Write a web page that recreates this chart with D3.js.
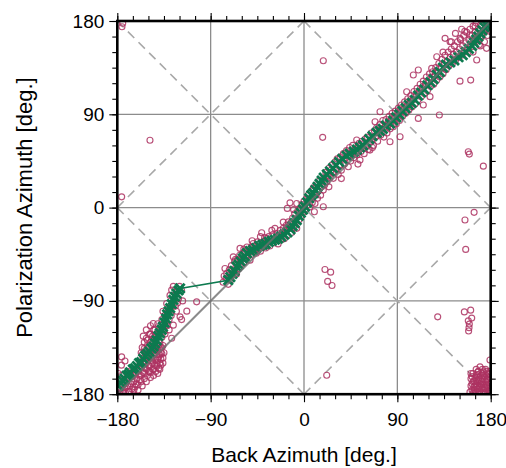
<!DOCTYPE html>
<html>
<head>
<meta charset="utf-8">
<script src="https://cdn.jsdelivr.net/npm/d3@7"></script>
<style>
  html, body { margin: 0; padding: 0; background: #fff; }
  svg { display: block; font-family: "Liberation Sans", Arial, Helvetica, sans-serif; }
</style>
</head>
<body>
<svg id="chart" width="506" height="468"></svg>
<script>
// ---------------- DATA ----------------
const axisDomain = [-180, 180];
const majorTicks = [-180, -90, 0, 90, 180];
const minorTicks = [-180,-165,-150,-135,-120,-105,-90,-75,-60,-45,-30,-15,0,15,30,45,60,75,90,105,120,135,150,165,180];
const gridValues = [-90, 0, 90];
const xTitle = "Back Azimuth [deg.]";
const yTitle = "Polarization Azimuth [deg.]";

// dashed guide lines [x1,y1,x2,y2]
const guideLines = [
  [-180, 180, 180, -180],
  [-180, 0, 0, 180],
  [0, 180, 180, 0],
  [0, -180, 180, 0],
  [-180, 0, 0, -180]
];
// theoretical 1:1 line
const identityLine = [-180, -180, 180, 180];

// circles: [back azimuth, polarization azimuth]
const circlesLeftCorner = [
  [-179,-179],[-178,-175],[-177,-180],[-176,-171],[-175,-177],[-174,-168],[-173,-174],[-172,-179],[-171,-166],[-170,-172],
  [-169,-177],[-168,-164],[-167,-170],[-166,-175],[-165,-162],[-164,-168],[-163,-173],[-162,-159],[-161,-165],[-160,-171],
  [-159,-156],[-158,-162],[-157,-168],[-156,-153],[-155,-159],[-154,-165],[-153,-150],[-152,-156],[-151,-162],[-150,-147],
  [-149,-153],[-148,-159],[-147,-144],[-146,-150],[-145,-156],[-144,-141],[-143,-147],[-142,-153],[-141,-138],[-140,-144],
  [-139,-150],[-138,-135],[-137,-141],[-139,-156],[-141,-160],[-143,-158],[-178,-166],[-176,-162],[-174,-178],[-170,-158],
  [-168,-178],[-164,-176],[-160,-176],[-156,-172],[-152,-168],[-148,-164],[-145,-162],[-180,-170],[-179,-160],[-176,-152],
  [-175.8,-144],[-172.6,-148],[-166,-168],[-162,-170],[-158,-166],[-154,-160],[-150,-158],[-146,-156],[-142,-150],[-138,-152],
  [-172,-170],[-168,-160],[-164,-162],[-160,-158],[-157,-162],[-152,-150]
];
const circlesLeftBlob = [
  [-157,-140],[-156,-135],[-155,-145],[-154,-130],[-153,-138],[-152,-126],[-151,-133],[-150,-143],[-149,-122],[-148,-130],
  [-147,-138],[-146,-148],[-145,-118],[-144,-125],[-143,-135],[-142,-142],[-141,-120],[-140,-128],[-139,-136],[-138,-146],
  [-137,-125],[-136,-133],[-135,-140],[-134,-122],[-136,-150],[-140,-155],[-144,-152],[-150,-152],[-154,-148],[-158,-150],
  [-155,-124],[-152,-118],[-148,-114],[-145.3,-111.8],[-143.7,-118],[-141,-112],[-150,-135],[-147,-128],[-145,-140],[-142,-132],
  [-139,-142],[-136,-145],[-153,-155],[-149,-158],[-151,-128],[-149,-140],[-147,-146],[-145,-131],[-143,-127],[-141,-146],
  [-139,-130],[-137,-135],[-156,-142],[-154,-136],[-148,-122],[-146,-124],[-144,-137],[-140,-133],[-138,-140],[-142,-122]
];
const circlesLeftUpper = [
  [-138,-113],[-137,-108],[-135,-118],[-134,-104],[-133,-112],[-132.4,-92.5],[-131,-100],[-130,-108],[-129.2,-84.7],[-128,-95],
  [-127.6,-79.6],[-127.6,-126],[-126,-113.4],[-125,-88],[-124,-95],[-123,-82],[-121,-88],[-119.5,-105.4],[-118,-108],[-117,-90],
  [-120,-76],[-122,-92],[-113,-99.9],[-130,-118],[-128,-104],[-126,-76],[-118,-80],[-136,-100],[-132,-114],[-123,-100]
];
const circlesMiddle = [
  [-78,-72],[-77,-66],[-76.2,-58.7],[-75,-68],[-74.5,-63.5],[-73,-74],[-72,-60],[-71,-70],[-70,-56],[-69,-65],
  [-68.2,-47.5],[-68,-62],[-67,-52],[-66,-58],[-65,-64],[-64,-50],[-63,-59],[-62,-46],[-61.7,-39.4],[-61,-55],
  [-60,-50],[-59,-44],[-58,-53],[-57,-42],[-56,-49],[-55,-38],[-54,-47],[-53,-43],[-52,-50.7],[-51,-38],
  [-50,-45],[-48.9,-34.6],[-48,-42],[-47,-37],[-46,-44],[-45,-33],[-44,-40],[-43,-35],[-42,-42],[-40.8,-24.3],
  [-40,-38],[-39,-33],[-38,-29],[-37,-39],[-36,-29.7],[-35,-35],[-34,-28],[-33,-37],[-32,-31],[-30,-26],
  [-29,-34],[-28,-20],[-27,-30],[-26,-25],[-25,-35],[-24,-27],[-23,-22],[-22,-31],[-21,-25],[-20,-20],
  [-19,-30],[-18,-22],[-17,-17],[-16,-27],[-15.1,-13.7],[-16.1,-0.8],[-14,-20],[-13.5,4.6],[-13,-15],[-12,-24],
  [-11,-10],[-10,-19],[-9,-6],[-8,-14],[-7,4],[-7,-20],[-6,-3],[-5,-12],[-4,-1],[-3,-8],
  [-2,3],[-1,-5],[0,6],[-66,-50],[-58,-40],[-50,-32],[-42,-28],[-31,-22],[-20,-14],[-10,-2]
];
const circlesUpperMiddle = [
  [1,-2],[2.6,8.9],[3,2],[4,12],[5.8,0.8],[6,8],[7,16],[8,5],[9,19],[10.6,4],
  [11,12],[12,22],[13,9],[14,16],[15,26],[16,12],[17,20],[18.6,16.9],[18.6,0.8],[19,28],
  [20,22],[21,34],[22,25],[23,31],[24,38],[25,29],[26,36],[27,41],[28.3,28.2],[29,34],
  [30,44],[31,37],[32,47],[33,32],[34,40],[35,49],[36,36],[37.9,45.8],[38,52],[39,42],
  [40,48],[41,55],[42.7,39.4],[43,50],[44,58],[45,45],[46,53],[47,60],[48,48],[49,56],
  [50.8,65.2],[51,51],[52,59],[53,62],[54,45.8],[55,54],[56,64],[57,57],[58,52],[59,66],
  [60,59],[61,68],[62,56],[63.6,55.5],[64,63],[65,72],[66,66],[67,60],[68.5,82.8],[68,74],
  [69,68],[70,77],[71,64],[72,73],[73.3,92.5],[73,80],[74,70],[75,76],[76,84],[77,68],
  [78,78],[79,85],[80,72],[81,80],[82,88],[82.9,63.5],[83,76],[84,84],[85,91],[86,78],
  [87,86],[88,93],[89,81],[90,89],[91,96],[92.6,68.3],[92,84],[93,92],[94,99],[95,88],
  [96,95],[97,102],[98,91],[99,98],[99,111.8],[10,-4],[24,20],[36,28],[52,42],[66,58]
];
const circlesUpperRight = [
  [100,105],[101,94],[102,101],[103,108],[104,97],[105.4,127.9],[105,104],[106,112],[107,100],[108,108],
  [109,115],[110.2,132.7],[110.2,86],[110,104],[111,112],[112,119],[113,107],[114,115],[115,99],[115,122],
  [116,110],[117,118],[118,126],[119,113],[120,121],[121.5,107],[121,129],[122,117],[123.1,134.3],[123,124],
  [124,131],[125,119],[126,127],[127,135],[128,145.5],[128,123],[129,131],[130,139],[131,126],[132,135],
  [133,143],[134,129],[135,138],[136,163.3],[136,147],[137,133],[138,141],[139,150],[140.8,160],[140,137],
  [141,145],[142,153],[143,139],[144,148],[145,156],[146,142],[147,150],[148,160],[149,145],[150.4,163.3],
  [150,153],[151,162],[152,147],[153,156],[154,166],[155,150],[156,159],[157,169],[158,153],[159,162],
  [160,172],[161,157],[162,166],[163,175],[164,160],[165,169],[166.5,142.4],[166,178],[167,163],[168,172],
  [169,157],[170,176],[171,166],[172,179],[173,169],[174,160],[175,173],[176,153.6],[176,179],[177,166],
  [178,175],[179,170],[179,180],[174,178],[170,163],[165,175],[160,166],[134,150],[142,160],[155,170],
  [163,150],[170,156],[146,168],[152,172]
];
const circlesCornerBR = [
  [161,-165],[162,-170],[162,-176],[163,-160],[164,-167],[164,-173],[165,-179],[166,-162],[166,-170],[167,-175],
  [168,-158],[168,-166],[169,-172],[169,-178],[170,-162],[171,-168],[171,-175],[172,-160],[172,-165],[173,-171],
  [173,-178],[174,-163],[175,-168],[175,-175],[176,-158],[176,-171],[177,-165],[177,-179],[178,-161],[178,-169],
  [179,-174],[179,-164],[180,-170],[180,-178],[163,-179],[165,-164],[167,-168],[170,-180],[174,-180],[176,-166],
  [178,-177],[168,-174],[161,-172],[163,-168],[172,-156],[175,-156],[166,-156],[179,-158],[160,-178],[170,-170],
  [174,-174],[166,-178],[162,-163],[177,-172],[169,-164],[168,-158.5],[172.6,-158.5],[177.7,-160],[161,-160],[164,-176],
  [167,-161],[171,-171],[173,-162],[175,-178],[177,-168],[179,-176],[165,-172],[169,-168],[172,-174],[176,-162]
];
const circlesOutliers = [
  [-175.5,174.5],[-174.8,177.8],[-175.8,10.4],[-148.5,65],[18.6,141.7],[18,67.8],[130.5,89.3],[158.4,53.9],[159.4,51.6],[172.9,40],
  [150.4,122],[160.7,123],[164,-4.6],[155.2,-12],[155.9,-40.3],[20.2,-59.7],[25.7,-62.3],[22.8,-71.2],[27,-75.1],[21.9,-161.7],
  [128.9,-105.4],[154.6,-100.6],[160.7,-98.9],[161.7,-106.6],[158.4,-109.2],[159.4,-112.4],[159.1,-115.8],[158.7,-119],[169.7,-153.6],[179.3,-147],
  [-103.5,-90.9]
];

// green series (connected by a line, in order)
const greenPath = [
  [-179,-172],[-177,-169],[-175,-167],[-173,-165],[-171,-162],[-169,-161],[-167.8,-159],[-165,-156],[-163,-155],[-161,-153],
  [-159,-150],[-157,-149],[-155,-146],[-153,-143],[-151,-141],[-149,-139],[-147,-136],[-145,-134],[-143.7,-131],[-142,-128],
  [-140.5,-124],[-139,-121],[-137.2,-118],[-136,-115],[-134.5,-111],[-133,-107],[-132,-103],[-130.5,-100],[-129,-97],[-127.5,-93],
  [-126,-89],[-124.5,-86],[-123,-83],[-121,-80],[-119.5,-78],
  [-73,-70],[-71,-67],[-69,-64],[-67,-61],[-65,-57],[-63,-55],[-61,-52],[-59,-49],[-57,-47],[-55,-44],
  [-52,-42],[-49,-41],[-46,-39],[-43,-37],[-40,-36],[-37,-35],[-34,-33],[-31,-32],[-28,-31],[-25,-30],
  [-22,-28],[-19,-26],[-16,-24],[-13,-21],[-11,-18],[-9,-15],[-7,-12],[-5,-8],[-3,-5],[-1,-2],
  [1,1],[3,5],[5,9],[7,12],[9,14],[11,17],[13,20],[15,23],[17,26],[19,29],
  [22,32],[25,35],[28,38],[31,41],[34,44],[37,47],[41,50],[44,52],[48,54],[51,56],
  [54,58],[57,60],[60,63],[63,66],[66,69],[70,72],[73,74],[76,76],[79,79],[83,81],
  [86,84],[89,87],[92,90],[95,93],[98,96],[101,99],[104,101],[107,104],[110,108],[113,111],
  [116,114],[119,118],[122,121],[125,124],[128,128],[131,131],[134,135],[137,138],[141,140],[145,142],
  [149,145],[153,147],[156,150],[159,153],[162,156],[164,159],[166,162],[168,165],[170,168],[172,171],
  [174,174],[176,176],[178,178]
];

// ---------------- STYLE ----------------
const W = 506, H = 468;
const plot = { left: 117.3, right: 490.7, top: 21, bottom: 394.2 };
const circleColor = "#ad3361";
const greenColor = "#0c7a4f";

const svg = d3.select("#chart");
const x = d3.scaleLinear().domain(axisDomain).range([plot.left, plot.right]);
const y = d3.scaleLinear().domain(axisDomain).range([plot.bottom, plot.top]);

svg.append("defs").append("clipPath").attr("id", "clip")
  .append("rect").attr("x", plot.left).attr("y", plot.top)
  .attr("width", plot.right - plot.left).attr("height", plot.bottom - plot.top);

// grid
const grid = svg.append("g").attr("stroke", "#8c8c8c").attr("stroke-width", 1.3);
grid.selectAll("line.v").data(gridValues).join("line")
  .attr("x1", d => x(d)).attr("x2", d => x(d)).attr("y1", plot.top).attr("y2", plot.bottom);
grid.selectAll("line.h").data(gridValues).join("line")
  .attr("y1", d => y(d)).attr("y2", d => y(d)).attr("x1", plot.left).attr("x2", plot.right);

// dashed guides
svg.append("g").attr("clip-path", "url(#clip)")
  .selectAll("line").data(guideLines).join("line")
  .attr("x1", d => x(d[0])).attr("y1", d => y(d[1]))
  .attr("x2", d => x(d[2])).attr("y2", d => y(d[3]))
  .attr("stroke", "#a8a8a8").attr("stroke-width", 1.6).attr("stroke-dasharray", "9,6");

// circles
const allCircles = [].concat(circlesLeftCorner, circlesLeftBlob, circlesLeftUpper, circlesMiddle,
  circlesUpperMiddle, circlesUpperRight, circlesCornerBR, circlesOutliers);
svg.append("g").attr("clip-path", "url(#clip)")
  .selectAll("circle").data(allCircles).join("circle")
  .attr("cx", d => x(d[0])).attr("cy", d => y(d[1])).attr("r", 3)
  .attr("fill", "none").attr("stroke", circleColor).attr("stroke-width", 1.15).attr("stroke-opacity", 0.85);

// green line + x markers
const gG = svg.append("g").attr("clip-path", "url(#clip)");
gG.append("path").datum(greenPath)
  .attr("d", d3.line().x(d => x(d[0])).y(d => y(d[1])))
  .attr("fill", "none").attr("stroke", greenColor).attr("stroke-width", 1.6);
const s = 4.6;
gG.selectAll("path.mk").data(greenPath).join("path").attr("class", "mk")
  .attr("d", d => {
    const cx = x(d[0]), cy = y(d[1]);
    return `M${cx - s},${cy - s}L${cx + s},${cy + s}M${cx - s},${cy + s}L${cx + s},${cy - s}`;
  })
  .attr("stroke", greenColor).attr("stroke-width", 2.8).attr("fill", "none");

// identity line
svg.append("line")
  .attr("x1", x(identityLine[0])).attr("y1", y(identityLine[1]))
  .attr("x2", x(identityLine[2])).attr("y2", y(identityLine[3]))
  .attr("stroke", "#6e6e6e").attr("stroke-width", 2).attr("stroke-opacity", 0.8);

// axes (ticks outside frame)
function styleAxis(g) {
  g.select(".domain").remove();
  g.selectAll(".tick line").attr("stroke", "#000").attr("stroke-width", 1.1);
  g.selectAll(".tick text").attr("fill", "#000").style("font-size", "19px");
}
const fmt = d3.format("d");
// minor ticks
svg.append("g").attr("transform", `translate(0,${plot.bottom})`)
  .call(d3.axisBottom(x).tickValues(minorTicks).tickSize(5).tickFormat("")).call(styleAxis);
svg.append("g").attr("transform", `translate(0,${plot.top})`)
  .call(d3.axisTop(x).tickValues(minorTicks).tickSize(5).tickFormat("")).call(styleAxis);
svg.append("g").attr("transform", `translate(${plot.left},0)`)
  .call(d3.axisLeft(y).tickValues(minorTicks).tickSize(5).tickFormat("")).call(styleAxis);
svg.append("g").attr("transform", `translate(${plot.right},0)`)
  .call(d3.axisRight(y).tickValues(minorTicks).tickSize(5).tickFormat("")).call(styleAxis);
// major ticks
svg.append("g").attr("transform", `translate(0,${plot.bottom})`)
  .call(d3.axisBottom(x).tickValues(majorTicks).tickSize(8).tickPadding(10).tickFormat(fmt)).call(styleAxis);
svg.append("g").attr("transform", `translate(0,${plot.top})`)
  .call(d3.axisTop(x).tickValues(majorTicks).tickSize(8).tickFormat("")).call(styleAxis);
svg.append("g").attr("transform", `translate(${plot.left},0)`)
  .call(d3.axisLeft(y).tickValues(majorTicks).tickSize(8).tickPadding(5).tickFormat(fmt)).call(styleAxis);
svg.append("g").attr("transform", `translate(${plot.right},0)`)
  .call(d3.axisRight(y).tickValues(majorTicks).tickSize(8).tickFormat("")).call(styleAxis);

// frame
svg.append("rect")
  .attr("x", plot.left).attr("y", plot.top)
  .attr("width", plot.right - plot.left).attr("height", plot.bottom - plot.top)
  .attr("fill", "none").attr("stroke", "#000").attr("stroke-width", 2.6);

// titles
svg.append("text").attr("x", (plot.left + plot.right) / 2).attr("y", 462)
  .attr("text-anchor", "middle").style("font-size", "21px").attr("fill", "#000").text(xTitle);
svg.append("text").attr("transform", `translate(32,${(plot.top + plot.bottom) / 2}) rotate(-90)`)
  .attr("text-anchor", "middle").style("font-size", "22px").attr("fill", "#000").text(yTitle);
</script>
</body>
</html>
